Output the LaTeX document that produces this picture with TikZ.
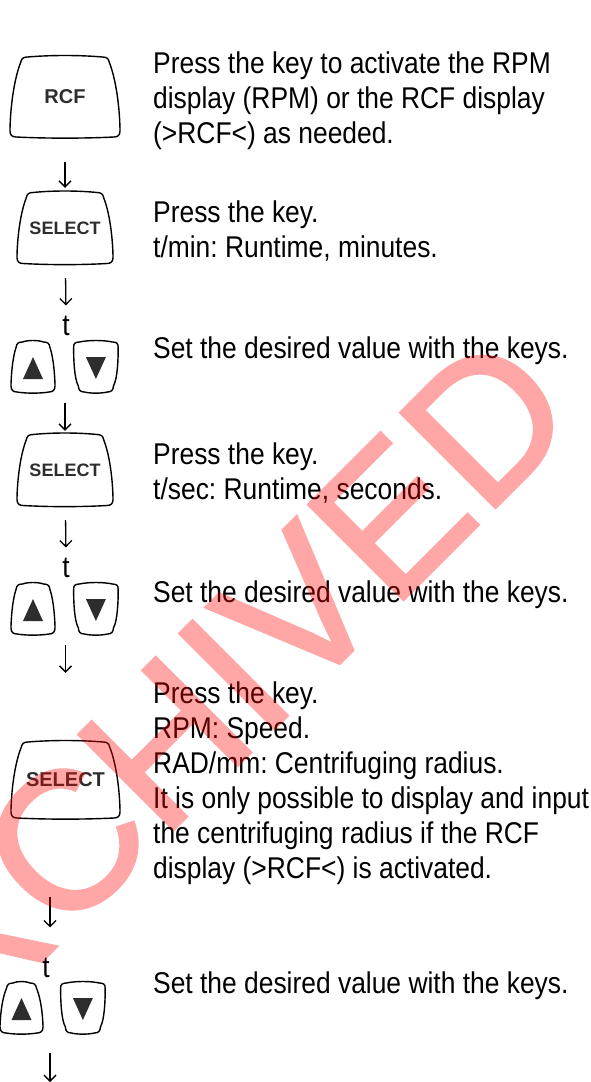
\documentclass[tikz,border=0pt]{standalone}
\usepackage{fontspec}
\setmainfont{Liberation Sans}[FakeStretch=0.88]
\newfontfamily\keyfont{Liberation Sans}
\newfontfamily\markfont{Liberation Sans}[FakeBold=1.5]
\frenchspacing
\usepackage{tikz}
\usetikzlibrary{arrows.meta,positioning,fit}
\definecolor{keygray}{RGB}{45,45,45}
\definecolor{markred}{RGB}{255,0,0}
% key outline: #1 node, #2 top half width, #3 bottom half width, #4 half height
\newcommand{\keyshape}[4]{%
  \pgfmathsetmacro\kw{max(#2,#3)}%
  \pgfmathsetmacro\ca{#2+(\kw-#2)*0.8}%
  \pgfmathsetmacro\cb{#3+(\kw-#3)*0.8}%
  \draw[keyline,shift={(#1.center)}]
    (-#2+6,-#4) .. controls (-#2/3,-#4-2) and (#2/3,-#4-2) .. (#2-6,-#4)
    .. controls (#2-2,-#4) and (#2,-#4+1.5) .. ({#2+(#3-#2)*0.06},-#4+5)
    .. controls (\ca,-#4/3) and (\cb,#4/2) .. (#3,#4-6)
    .. controls (#3,#4-2) and (#3-2,#4) .. (#3-6,#4)
    .. controls (#3/3,#4+1.5) and (-#3/3,#4+1.5) .. (-#3+6,#4)
    .. controls (-#3+2,#4) and (-#3,#4-2) .. (-#3,#4-6)
    .. controls (-\cb,#4/2) and (-\ca,-#4/3) .. ({-#2-(#3-#2)*0.06},-#4+5)
    .. controls (-#2,-#4+1.5) and (-#2+2,-#4) .. cycle;}

\begin{document}
\begin{tikzpicture}[x=1pt,y=-1pt,
  every node/.style={inner sep=0pt},
  keybox/.style={font=\keyfont\bfseries\fontsize{18}{18}\selectfont,text=keygray},
  bigkeybox/.style={keybox,font=\keyfont\bfseries\fontsize{20}{20}\selectfont},
  arrowkey/.style={minimum width=45pt,minimum height=50pt},
  txt/.style={anchor=north west,align=left,font=\fontsize{30}{35}\selectfont},
  tlbl/.style={anchor=base,font=\fontsize{30}{35}\selectfont},
  keyline/.style={line width=1.4pt,line join=round},
  tri/.style={fill=keygray},
  flow/.style={-{Straight Barb[length=6pt,width=12pt]},line width=1.3pt},
  wmark/.style={rotate=45,text=markred,
                font=\markfont\fontsize{195}{195}\selectfont}]
\useasboundingbox (0,0) rectangle (590,1082);
%--- Keys ---
\node[bigkeybox,minimum width=110pt,minimum height=80pt] (rcf) at (65,97) {RCF};
\node[keybox,minimum width=96pt,minimum height=71pt] (sel1) at (65,228) {SELECT};
\node[tlbl] (t1) at (66,335) {t};
\node[arrowkey] (up1) at (33,367) {};
\node[arrowkey,right=17.5pt of up1] (dn1) {};
\node[fit=(up1)(dn1)] (keys1) {};
\node[keybox,minimum width=96pt,minimum height=71pt] (sel2) at (65,470) {SELECT};
\node[tlbl] (t2) at (66,577) {t};
\node[arrowkey] (up2) at (33,609) {};
\node[arrowkey,right=17.5pt of up2] (dn2) {};
\node[fit=(up2)(dn2)] (keys2) {};
\node[bigkeybox,minimum width=109pt,minimum height=76pt] (sel3) at (65.5,780) {SELECT};
\node[tlbl] (t3) at (46,977) {t};
\node[arrowkey] (up3) at (21.5,1008) {};
\node[arrowkey,right=16pt of up3] (dn3) {};
\node[fit=(up3)(dn3)] (keys3) {};
\coordinate (flowend) at (50,1082);
%--- Outlines ---
\keyshape{rcf}{43.5}{55}{40}
\keyshape{sel1}{38}{48}{35.5}
\keyshape{sel2}{38}{48}{35.5}
\keyshape{sel3}{43.5}{54.5}{38}
\keyshape{up1}{16.5}{22}{25}
\keyshape{dn1}{22.5}{17.5}{25}
\keyshape{up2}{16.5}{22}{25}
\keyshape{dn2}{22.5}{17.5}{25}
\keyshape{up3}{14.5}{21.5}{25}
\keyshape{dn3}{22.5}{17.5}{25}
\fill[tri,shift={(up1.center)}] (-10,12) -- (10,12) -- (0,-10) -- cycle;
\fill[tri,shift={(dn1.center)}] (-10,-10) -- (10,-10) -- (0,12) -- cycle;
\fill[tri,shift={(up2.center)}] (-10,12) -- (10,12) -- (0,-10) -- cycle;
\fill[tri,shift={(dn2.center)}] (-10,-10) -- (10,-10) -- (0,12) -- cycle;
\fill[tri,shift={(up3.center)}] (-10,12) -- (10,12) -- (0,-10) -- cycle;
\fill[tri,shift={(dn3.center)}] (-10,-10) -- (10,-10) -- (0,12) -- cycle;
%--- Texts ---
\node[txt] (b1) at (153,52) {Press the key to activate the RPM\\display (RPM) or the RCF display\\(>RCF<) as needed.};
\node[txt] (b2) at (153,201) {Press the key.\\t/min: Runtime, minutes.};
\node[txt] (b3) at (153,337) {Set the desired value with the keys.};
\node[txt] (b4) at (153,443) {Press the key.\\t/sec: Runtime, seconds.};
\node[txt] (b5) at (153,581) {Set the desired value with the keys.};
\node[txt] (b6) at (153,682) {Press the key.\\RPM: Speed.\\RAD/mm: Centrifuging radius.\\It is only possible to display and input\\the centrifuging radius if the RCF\\display (>RCF<) is activated.};
\node[txt] (b7) at (153,972) {Set the desired value with the keys.};
%--- Flow arrows ---
\draw[flow,shorten <=25pt,shorten >=4.5pt] (rcf) -- (sel1);
\draw[flow,shorten <=14.5pt,shorten >=10pt] (sel1) -- (t1.north);
\draw[flow,shorten <=11pt,shorten >=3.5pt] (keys1.south -| sel2) -- (sel2);
\draw[flow,shorten <=14.5pt,shorten >=10pt] (sel2) -- (t2.north);
\draw[flow,shorten <=11pt,shorten >=69pt] (keys2.south -| sel3) -- (sel3.north);
\draw[flow,shorten <=79pt,shorten >=30pt] (sel3.south -| flowend) -- (t3.north -| flowend);
\draw[flow,shorten <=20pt] (keys3.south -| flowend) -- (flowend);
%--- Watermark ---
\begin{scope}[transparency group,opacity=0.35]
\node[wmark] (wm) at (180,728) {ARCHIVED};
\end{scope}
\end{tikzpicture}
\end{document}
